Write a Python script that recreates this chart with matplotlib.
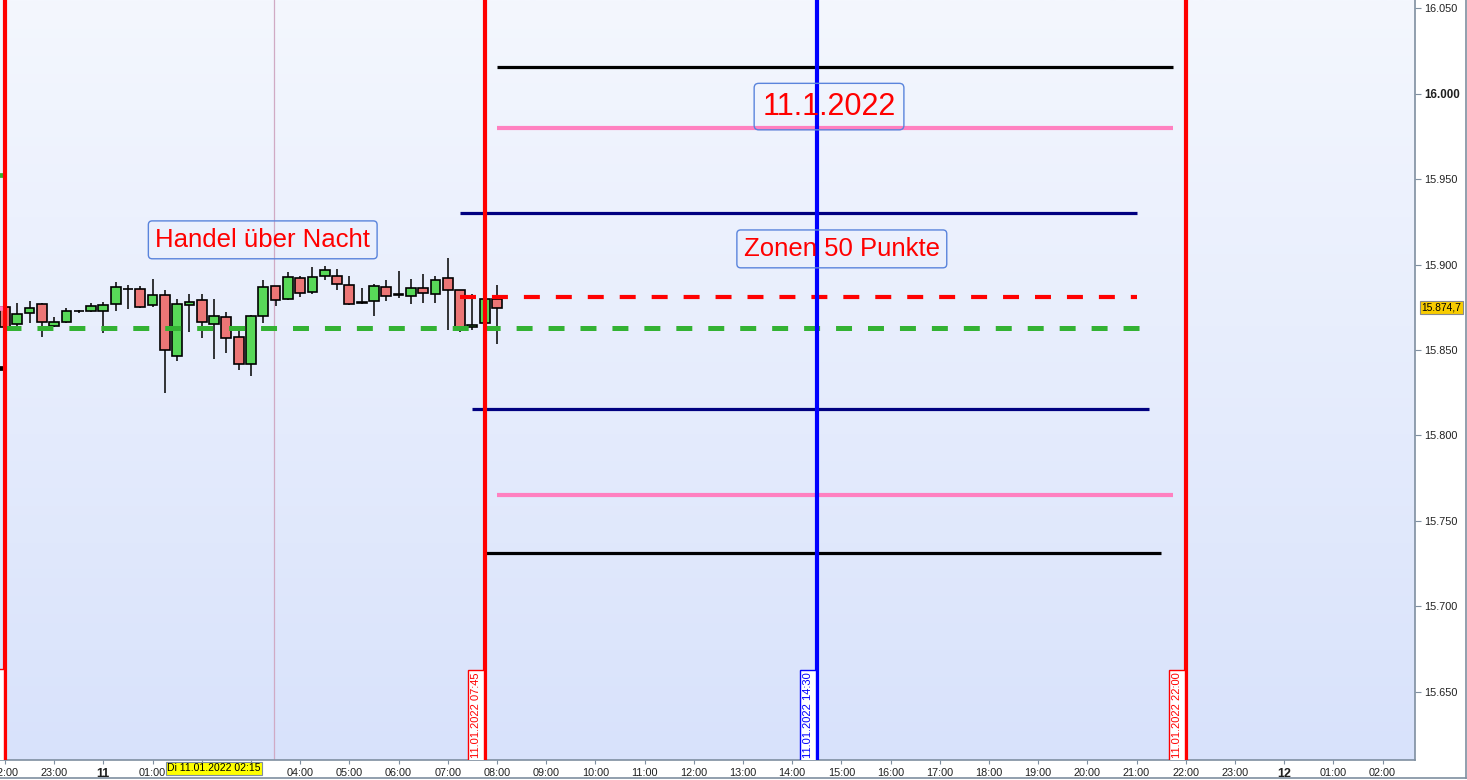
import numpy as np
import pandas as pd
import matplotlib
matplotlib.use('Agg')
import matplotlib.pyplot as plt
from matplotlib.patches import Rectangle
from matplotlib.lines import Line2D
from matplotlib.colors import LinearSegmentedColormap

plt.rcParams['font.family'] = ['Liberation Sans', 'DejaVu Sans']
plt.rcParams['lines.scale_dashes'] = False

# =============================================================================
# Datos
# =============================================================================
# Velas de 15 min: tiempo, apertura, máximo, mínimo, cierre
candle_time = [
    '2022-01-10 22:00', '2022-01-10 22:15', '2022-01-10 22:30', '2022-01-10 22:45',
    '2022-01-10 23:00', '2022-01-10 23:15', '2022-01-10 23:30', '2022-01-10 23:45',
    '2022-01-11 00:00', '2022-01-11 00:15', '2022-01-11 00:30', '2022-01-11 00:45',
    '2022-01-11 01:00', '2022-01-11 01:15', '2022-01-11 01:30', '2022-01-11 01:45',
    '2022-01-11 02:00', '2022-01-11 02:15', '2022-01-11 02:30', '2022-01-11 02:45',
    '2022-01-11 03:00', '2022-01-11 03:15', '2022-01-11 03:30', '2022-01-11 03:45',
    '2022-01-11 04:00', '2022-01-11 04:15', '2022-01-11 04:30', '2022-01-11 04:45',
    '2022-01-11 05:00', '2022-01-11 05:15', '2022-01-11 05:30', '2022-01-11 05:45',
    '2022-01-11 06:00', '2022-01-11 06:15', '2022-01-11 06:30', '2022-01-11 06:45',
    '2022-01-11 07:00', '2022-01-11 07:15', '2022-01-11 07:30', '2022-01-11 07:45',
    '2022-01-11 08:00',
]
c_open = [15875.0, 15865.0, 15871.5, 15876.9, 15863.9, 15866.2, 15873.0, 15873.0,
          15872.7, 15876.7, 15886.0, 15885.5, 15876.2, 15882.0, 15846.3, 15876.2,
          15879.1, 15865.0, 15869.1, 15857.4, 15841.6, 15870.1, 15887.3, 15879.7,
          15892.0, 15883.8, 15893.1, 15893.1, 15887.9, 15877.9, 15878.5, 15886.7,
          15882.6, 15881.4, 15886.1, 15882.6, 15892.0, 15885.0, 15863.3, 15865.6,
          15879.7]
c_high = [15877.0, 15877.3, 15878.7, 15877.7, 15869.1, 15874.4, 15873.2, 15877.7,
          15878.3, 15889.6, 15888.0, 15887.5, 15891.6, 15885.1, 15879.8, 15882.8,
          15882.8, 15879.8, 15872.1, 15860.9, 15870.3, 15891.0, 15887.5, 15895.7,
          15893.3, 15898.4, 15899.0, 15897.2, 15893.3, 15886.3, 15888.5, 15891.0,
          15896.2, 15891.6, 15894.5, 15893.1, 15903.7, 15885.2, 15882.6, 15880.0,
          15888.0]
c_low = [15861.0, 15864.0, 15865.6, 15857.8, 15863.5, 15866.0, 15871.5, 15872.5,
         15860.1, 15873.0, 15874.0, 15874.5, 15875.0, 15824.7, 15843.7, 15860.7,
         15857.2, 15844.9, 15848.4, 15838.5, 15835.0, 15865.6, 15875.9, 15879.0,
         15881.2, 15882.8, 15890.8, 15885.0, 15876.5, 15876.7, 15870.1, 15878.5,
         15880.3, 15876.7, 15877.3, 15877.3, 15861.7, 15860.7, 15861.7, 15865.0,
         15853.7]
c_close = [15863.3, 15870.9, 15874.4, 15866.2, 15866.2, 15872.7, 15872.6, 15875.8,
           15876.2, 15886.7, 15885.6, 15875.0, 15882.0, 15850.0, 15876.7, 15877.9,
           15866.2, 15869.7, 15856.8, 15841.6, 15869.7, 15886.7, 15879.1, 15892.6,
           15883.2, 15892.6, 15896.6, 15888.5, 15876.7, 15877.6, 15887.3, 15881.4,
           15882.2, 15886.1, 15883.2, 15890.8, 15885.0, 15861.7, 15864.5, 15879.7,
           15874.7]
last_price = 15874.7

# Zonas horizontales: nivel, inicio, fin
zone_level = [16015.6, 15980.0, 15930.0, 15881.0, 15863.0, 15815.5, 15765.0, 15731.2]
zone_start = ['2022-01-11 08:00', '2022-01-11 08:00', '2022-01-11 07:15',
              '2022-01-11 07:15', '2022-01-10 22:00', '2022-01-11 07:30',
              '2022-01-11 08:00', '2022-01-11 07:45']
zone_end = ['2022-01-11 21:45', '2022-01-11 21:45', '2022-01-11 21:00',
            '2022-01-11 21:00', '2022-01-11 21:04', '2022-01-11 21:15',
            '2022-01-11 21:45', '2022-01-11 21:30']
zone_color = ['black', '#ff80c0', '#000080', '#ff0000', '#33b233',
              '#000080', '#ff80c0', 'black']
zone_dashed = [False, False, False, True, True, False, False, False]

# Restos de las líneas del día anterior (a la izquierda)
prev_level = [15952.4, 15874.6, 15839.5]
prev_color = ['#33b233', '#ff80c0', 'black']

# Líneas verticales
vline_time = ['2022-01-10 22:00', '2022-01-11 07:45',
              '2022-01-11 14:30', '2022-01-11 22:00']
vline_color = ['#ff0000', '#ff0000', '#0000ff', '#ff0000']

y_ticks = [15650, 15700, 15750, 15800, 15850, 15900, 15950, 16000, 16050]

cursor_time = '2022-01-11 02:15'

T0 = pd.Timestamp('2022-01-11 00:00')


def horas(ts):
    """Strings de fecha -> horas desde el 11.01 00:00."""
    return np.asarray((pd.to_datetime(ts) - T0) / pd.Timedelta(hours=1), dtype=float)


def fmt_precio(v):
    return f'{v:,.0f}'.replace(',', '.')


# =============================================================================
# Figura
# =============================================================================
fig = plt.figure(figsize=(14.67, 7.80), dpi=100, facecolor='white')
ax = fig.add_axes([0, 20 / 780, 1415 / 1467, 760 / 780])

# Fondo degradado
grad = np.linspace(0, 1, 256).reshape(-1, 1)
cmap = LinearSegmentedColormap.from_list('bg', ['#f4f7fe', '#d8e2fb'])
ax.imshow(grad, aspect='auto', cmap=cmap, extent=[0, 1, 0, 1],
          transform=ax.transAxes, zorder=0)

# Línea fina del cursor
ax.axvline(horas(['2022-01-11 03:28'])[0], color='#d0aac4', lw=0.9, zorder=1)

# Velas
cx = horas(candle_time)
BW = 0.2
for x, o, h, l, c in zip(cx, c_open, c_high, c_low, c_close):
    col = '#58d858' if c >= o else '#ec7676'
    ax.vlines(x, l, h, color='black', lw=1.1, zorder=3)
    lo, hi = min(o, c), max(o, c)
    ax.add_patch(Rectangle((x - BW / 2, lo), BW, max(hi - lo, 0.4),
                           facecolor=col, edgecolor='black', lw=1.2, zorder=4))

# Zonas
xs = horas(zone_start)
xe = horas(zone_end)
for lev, a, b, col, dash in zip(zone_level, xs, xe, zone_color, zone_dashed):
    if dash:
        lw = 3.6 if col == '#33b233' else 3.0
        ax.plot([a, b], [lev, lev], color=col, lw=lw, dashes=(11.5, 11.5),
                solid_capstyle='butt', dash_capstyle='butt', zorder=5)
    else:
        lw = 3.0 if col == '#ff80c0' else 2.3
        ax.plot([a, b], [lev, lev], color=col, lw=lw,
                solid_capstyle='butt', zorder=5)

for lev, col in zip(prev_level, prev_color):
    ax.plot([-3, -2], [lev, lev], color=col, lw=3.4, solid_capstyle='butt', zorder=5)

# Verticales + etiquetas abajo
vx = horas(vline_time)
for x, col, t in zip(vx, vline_color, vline_time):
    ax.axvline(x, color=col, lw=3.0, zorder=6)
    lab = pd.Timestamp(t).strftime('%d.%m.%Y %H:%M')
    ax.annotate(lab, xy=(x, 0), xycoords=('data', 'axes fraction'),
                xytext=(-2.6, 1.2), textcoords='offset points',
                rotation=90, ha='right', va='bottom', fontsize=8, color=col,
                annotation_clip=False, clip_on=True, zorder=7,
                bbox=dict(boxstyle='square,pad=0.25', fc='white', ec=col, lw=1))

# Cajas de texto
box = dict(boxstyle='round,pad=0.27,rounding_size=0.15', fc='none',
           ec='#5a84dc', lw=1)
ax.text(14.75, 15992.5, '11.1.2022', fontsize=22, color='#ff0000',
        ha='center', va='center', bbox=box, zorder=8)
ax.text(3.24, 15914.5, 'Handel über Nacht', fontsize=18.5, color='#ff0000',
        ha='center', va='center', bbox=box, zorder=8)
ax.text(15.01, 15909.2, 'Zonen 50 Punkte', fontsize=18.5, color='#ff0000',
        ha='center', va='center', bbox=box, zorder=8)

# Ejes
ax.set_xlim(-2.10, 26.66)
ax.set_ylim(15610, 16054.9)

for s in ['left', 'top']:
    ax.spines[s].set_visible(False)
for s in ['right', 'bottom']:
    ax.spines[s].set_color('#7f8fa0')
    ax.spines[s].set_linewidth(1.2)

ax.yaxis.tick_right()
ax.set_yticks(y_ticks)
ax.set_yticklabels([fmt_precio(v) for v in y_ticks])
ax.tick_params(axis='y', direction='out', length=4, width=0.8, color='#7f8fa0',
               labelsize=7.8, pad=2.5, labelcolor='#202020')
for lbl, v in zip(ax.get_yticklabels(), y_ticks):
    if v == 16000:
        lbl.set_fontweight('bold')
        lbl.set_fontsize(8.3)

# Eje x: una marca por hora; 02:00 y 03:00 quedan tapadas por la fecha del cursor
cur_h = horas([cursor_time])[0]
x_ticks = list(range(-2, 27))
x_labels = []
for h in x_ticks:
    if abs(h - cur_h) < 1:
        x_labels.append('')
    elif h % 24 == 0:
        x_labels.append(str(11 + h // 24))
    else:
        x_labels.append(f'{h % 24:02d}:00')
ax.set_xticks(x_ticks)
ax.set_xticklabels(x_labels)
ax.tick_params(axis='x', direction='out', length=3, width=0.8, color='#7f8fa0',
               labelsize=7.8, pad=2.5, labelcolor='#202020')
for lbl, h in zip(ax.get_xticklabels(), x_ticks):
    if h % 24 == 0:
        lbl.set_fontweight('bold')
        lbl.set_fontsize(9)

# Precio actual
ax.annotate(f'{last_price:,.1f}'.replace(',', 'X').replace('.', ',').replace('X', '.'),
            xy=(1, last_price), xycoords=('axes fraction', 'data'),
            xytext=(4.5, 0), textcoords='offset points', ha='left', va='center',
            fontsize=7.4, color='black', annotation_clip=False, zorder=9,
            bbox=dict(boxstyle='square,pad=0.15', fc='#f8cc00', ec='#8a8a8a', lw=0.8))

# Fecha del cursor abajo
ax.annotate('Di ' + pd.Timestamp(cursor_time).strftime('%d.%m.%Y %H:%M'),
            xy=(cur_h, 0), xycoords=('data', 'axes fraction'),
            xytext=(0, -2.2), textcoords='offset points', ha='center', va='top',
            fontsize=7.5, color='black', annotation_clip=False, zorder=9,
            bbox=dict(boxstyle='square,pad=0.14', fc='#ffff00', ec='#7f8fa0', lw=0.8))

# Marco exterior
fig.add_artist(Line2D([1465.5 / 1467] * 2, [2 / 780, 1], color='#7f8fa0', lw=1.2,
                      transform=fig.transFigure))
fig.add_artist(Line2D([0, 1465.5 / 1467], [2 / 780] * 2, color='#7f8fa0', lw=1.2,
                      transform=fig.transFigure))

fig.savefig('out.png', dpi=100, facecolor='white')
